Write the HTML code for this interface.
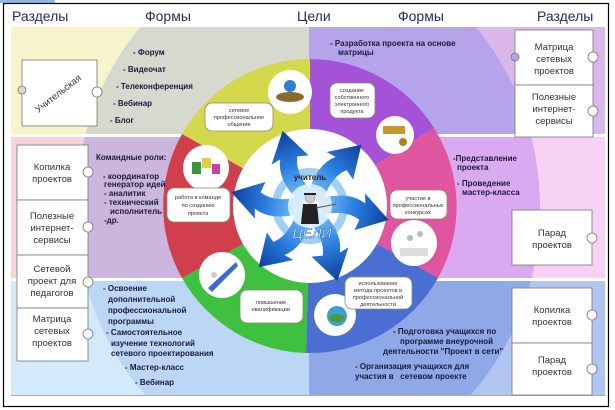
<!DOCTYPE html>
<html><head><meta charset="utf-8"><style>
html,body{margin:0;padding:0;background:#fff;}
svg{display:block;font-family:"Liberation Sans","DejaVu Sans",sans-serif;}
.t{font-size:14px;fill:#2b2b62;}
.f{font-size:8px;fill:#1a1a3a;font-weight:bold;}
.p{font-size:9.5px;fill:#333;text-anchor:middle;}
.b{font-size:5.6px;fill:#333;text-anchor:middle;}
</style></head><body>
<svg width="615" height="410" viewBox="0 0 615 410" xmlns="http://www.w3.org/2000/svg">
<defs>
<clipPath id="ell"><ellipse cx="308" cy="208" rx="232" ry="262"/></clipPath>
<linearGradient id="ag" x1="0" y1="0" x2="1" y2="0"><stop offset="0" stop-color="#7fc4f8"/><stop offset="0.5" stop-color="#2a7ee0"/><stop offset="1" stop-color="#0d3f9a"/></linearGradient>
<g id="arr"><path d="M0,-9 Q28,-22 46,-12 L44,-22 L72,0 L40,16 L43,5 Q26,-4 0,9 Z" fill="url(#ag)"/></g>
</defs>
<rect x="0" y="0" width="615" height="410" fill="#fff"/>
<rect x="0" y="0" width="55" height="3" fill="#8fb8e0"/>
<rect x="3.5" y="3.5" width="605" height="403" fill="#fff" stroke="#000" stroke-width="1.2"/>
<text class="t" x="12" y="21">Разделы</text>
<text class="t" x="145" y="21">Формы</text>
<text class="t" x="297" y="21">Цели</text>
<text class="t" x="398" y="21">Формы</text>
<text class="t" x="537" y="21">Разделы</text>
<rect x="11" y="27" width="298" height="107" fill="#f7f4cc"/>
<rect x="309" y="27" width="296" height="107" fill="#dcb8ea"/>
<rect x="11" y="137" width="298" height="141" fill="#f7d4dc"/>
<rect x="309" y="137" width="296" height="141" fill="#f8d2f4"/>
<rect x="11" y="281" width="298" height="114" fill="#d4e9f9"/>
<rect x="309" y="281" width="296" height="114" fill="#b0c6f0"/>
<g clip-path="url(#ell)">
<rect x="11" y="27" width="298" height="107" fill="#d7d9cf"/>
<rect x="309" y="27" width="296" height="107" fill="#b6a4ea"/>
<rect x="11" y="137" width="298" height="141" fill="#ccb6de"/>
<rect x="309" y="137" width="296" height="141" fill="#daaaf0"/>
<rect x="11" y="281" width="298" height="114" fill="#bcd6f5"/>
<rect x="309" y="281" width="296" height="114" fill="#8ea8e8"/>
</g>
<line x1="11" y1="395.5" x2="605" y2="395.5" stroke="#aaa" stroke-width="1"/>
<g transform="translate(310,206)">
<path d="M0,0 L-128,-72 A147,147 0 0 1 0,-147 Z" fill="#d3d84c"/>
<path d="M0,0 L0,-147 A147,147 0 0 1 124,-78 Z" fill="#a452d8"/>
<path d="M0,0 L124,-78 A147,147 0 0 1 128,72 Z" fill="#e0559f"/>
<path d="M0,0 L128,72 A147,147 0 0 1 -4,147 Z" fill="#4b6ed2"/>
<path d="M0,0 L-4,147 A147,147 0 0 1 -128,72 Z" fill="#3fc13f"/>
<path d="M0,0 L-128,72 A147,147 0 0 1 -128,-72 Z" fill="#d23f4c"/>
<circle r="77" fill="#fff"/>
<circle r="34" fill="none" stroke="#9fd0f4" stroke-width="8"/>
<use href="#arr" transform="rotate(-110) translate(8,0)"/>
<use href="#arr" transform="rotate(-50) translate(8,0)"/>
<use href="#arr" transform="rotate(10) translate(8,0)"/>
<use href="#arr" transform="rotate(70) translate(8,0)"/>
<use href="#arr" transform="rotate(130) translate(8,0)"/>
<use href="#arr" transform="rotate(190) translate(8,0)"/>
<circle r="22" fill="#e8f4fc" opacity="0.85"/>
<circle cx="0" cy="-8" r="5" fill="#ccc" stroke="#888" stroke-width="0.5"/>
<rect x="-6" y="-13" width="12" height="2" fill="#222"/>
<path d="M-7,-2 L7,-2 L9,18 L-9,18 Z" fill="#222"/>
<line x1="6" y1="2" x2="26" y2="-2" stroke="#555" stroke-width="1"/>
<text x="0" y="-26" font-size="8" text-anchor="middle" fill="#222" font-weight="bold">учитель</text>
<text x="2" y="32" font-size="14" text-anchor="middle" fill="#fff" stroke="#2a70c8" stroke-width="0.5" font-style="italic">ЦЕЛИ</text>
</g>
<g stroke="none">
<circle cx="290" cy="92" r="22" fill="#fff"/><circle cx="290" cy="86" r="6" fill="#2f7fd0"/><ellipse cx="290" cy="97" rx="14" ry="5" fill="#8a6a30"/>
<circle cx="395" cy="135" r="19" fill="#fff"/><rect x="383" y="126" width="22" height="8" fill="#c8962a"/><circle cx="403" cy="142" r="4" fill="#b08020"/>
<circle cx="414" cy="243" r="23" fill="#fff"/><rect x="400" y="248" width="28" height="8" fill="#ddd"/><circle cx="410" cy="238" r="3" fill="#bbb"/><circle cx="420" cy="234" r="3" fill="#bbb"/>
<circle cx="335" cy="315" r="21" fill="#fff"/><circle cx="337" cy="316" r="10" fill="#3aa0d8"/><ellipse cx="337" cy="318" rx="8" ry="4" fill="#4c9a3a"/>
<circle cx="222" cy="275" r="23" fill="#fff"/><path d="M208,288 L236,262 L238,266 L212,292 Z" fill="#3a6ad8"/><circle cx="214" cy="275" r="3" fill="#ccc"/>
<circle cx="206" cy="168" r="23" fill="#fff"/><rect x="192" y="162" width="9" height="12" fill="#3a9a3a"/><rect x="202" y="158" width="9" height="10" fill="#e0d040"/><rect x="212" y="164" width="8" height="10" fill="#d040a0"/>
</g>
<g fill="#fff" stroke="#8a8a6a" stroke-width="0.8">
<rect x="205" y="103" width="68" height="28" rx="7"/>
<rect x="330" y="83" width="45" height="35" rx="7"/>
<rect x="390" y="190" width="57" height="29" rx="7"/>
<rect x="345" y="277" width="67" height="32" rx="7"/>
<rect x="240" y="290" width="63" height="33" rx="7"/>
<rect x="167" y="188" width="63" height="34" rx="7"/>
</g>
<text class="b" x="239" y="112">сетевое</text><text class="b" x="239" y="119">профессиональное</text><text class="b" x="239" y="126">общение</text>
<text class="b" x="352" y="92">создание</text><text class="b" x="352" y="99">собственного</text><text class="b" x="352" y="106">электронного</text><text class="b" x="352" y="113">продукта</text>
<text class="b" x="418" y="200">участие в</text><text class="b" x="418" y="207">профессиональных</text><text class="b" x="418" y="214">конкурсах</text>
<text class="b" x="378" y="285">использование</text><text class="b" x="378" y="292">метода проектов в</text><text class="b" x="378" y="299">профессиональной</text><text class="b" x="378" y="306">деятельности</text>
<text class="b" x="271" y="304">повышение</text><text class="b" x="271" y="311">квалификации</text>
<text class="b" x="198" y="199">работа в команде</text><text class="b" x="198" y="207">по созданию</text><text class="b" x="198" y="215">проекта</text>
<text class="f" x="133" y="55">- Форум</text>
<text class="f" x="123" y="72">- Видеочат</text>
<text class="f" x="116" y="89">- Телеконференция</text>
<text class="f" x="113" y="106">- Вебинар</text>
<text class="f" x="110" y="123">- Блог</text>
<text class="f" x="96" y="160">Командные роли:</text>
<text class="f" x="103" y="179">- координатор</text>
<text class="f" x="104" y="187">генератор идей</text>
<text class="f" x="104" y="196">- аналитик</text>
<text class="f" x="104" y="205">- технический</text>
<text class="f" x="110" y="214">исполнитель</text>
<text class="f" x="104" y="223">-др.</text>
<text class="f" x="103" y="291">- Освоение</text>
<text class="f" x="108" y="302">дополнительной</text>
<text class="f" x="108" y="313">профессиональной</text>
<text class="f" x="108" y="324">программы</text>
<text class="f" x="106" y="335">- Самостоятельное</text>
<text class="f" x="111" y="346">изучение технологий</text>
<text class="f" x="111" y="356">сетевого проектирования</text>
<text class="f" x="125" y="370">- Мастер-класс</text>
<text class="f" x="135" y="385">- Вебинар</text>
<text class="f" x="330" y="46">- Разработка проекта на основе</text>
<text class="f" x="338" y="55">матрицы</text>
<text class="f" x="453" y="161">-Представление</text>
<text class="f" x="457" y="170">проекта</text>
<text class="f" x="457" y="186">- Проведение</text>
<text class="f" x="462" y="195">мастер-класса</text>
<text class="f" x="393" y="334">- Подготовка учащихся по</text>
<text class="f" x="400" y="344">программе внеурочной</text>
<text class="f" x="383" y="354">деятельности "Проект в сети"</text>
<text class="f" x="355" y="369">- Организация учащихся для</text>
<text class="f" x="355" y="379">участия в &#160; сетевом проекте</text>
<g fill="#fff" stroke="#777" stroke-width="0.8">
<rect x="22" y="60" width="75" height="66"/>
<rect x="17" y="145" width="71" height="55"/>
<rect x="17" y="200" width="71" height="55"/>
<rect x="17" y="255" width="71" height="53"/>
<rect x="17" y="308" width="71" height="53"/>
<rect x="515" y="30" width="78" height="55"/>
<rect x="515" y="85" width="78" height="52"/>
<rect x="512" y="210" width="80" height="55"/>
<rect x="512" y="288" width="80" height="55"/>
<rect x="512" y="343" width="80" height="52"/>
</g>
<g fill="#fff" stroke="#777" stroke-width="0.8">
<circle cx="97" cy="92" r="5"/><circle cx="22" cy="90" r="4" fill="#d7d9cf"/>
<circle cx="88" cy="172" r="5"/><circle cx="88" cy="227" r="5"/><circle cx="88" cy="282" r="5"/><circle cx="88" cy="334" r="5"/>
<circle cx="515" cy="57" r="4" fill="#b6a4ea"/><circle cx="593" cy="57" r="5"/><circle cx="593" cy="111" r="5"/>
<circle cx="592" cy="238" r="5"/><circle cx="592" cy="315" r="5"/><circle cx="592" cy="369" r="5"/>
</g>
<text class="p" transform="translate(60,96) rotate(-38)">Учительская</text>
<text class="p" x="52" y="170">Копилка</text><text class="p" x="52" y="182">проектов</text>
<text class="p" x="52" y="219">Полезные</text><text class="p" x="52" y="231">интернет-</text><text class="p" x="52" y="243">сервисы</text>
<text class="p" x="52" y="272">Сетевой</text><text class="p" x="52" y="284">проект для</text><text class="p" x="52" y="296">педагогов</text>
<text class="p" x="52" y="322">Матрица</text><text class="p" x="52" y="334">сетевых</text><text class="p" x="52" y="346">проектов</text>
<text class="p" x="554" y="50">Матрица</text><text class="p" x="554" y="62">сетевых</text><text class="p" x="554" y="74">проектов</text>
<text class="p" x="554" y="100">Полезные</text><text class="p" x="554" y="112">интернет-</text><text class="p" x="554" y="124">сервисы</text>
<text class="p" x="552" y="236">Парад</text><text class="p" x="552" y="248">проектов</text>
<text class="p" x="552" y="313">Копилка</text><text class="p" x="552" y="325">проектов</text>
<text class="p" x="552" y="363">Парад</text><text class="p" x="552" y="375">проектов</text>
</svg>
</body></html>
